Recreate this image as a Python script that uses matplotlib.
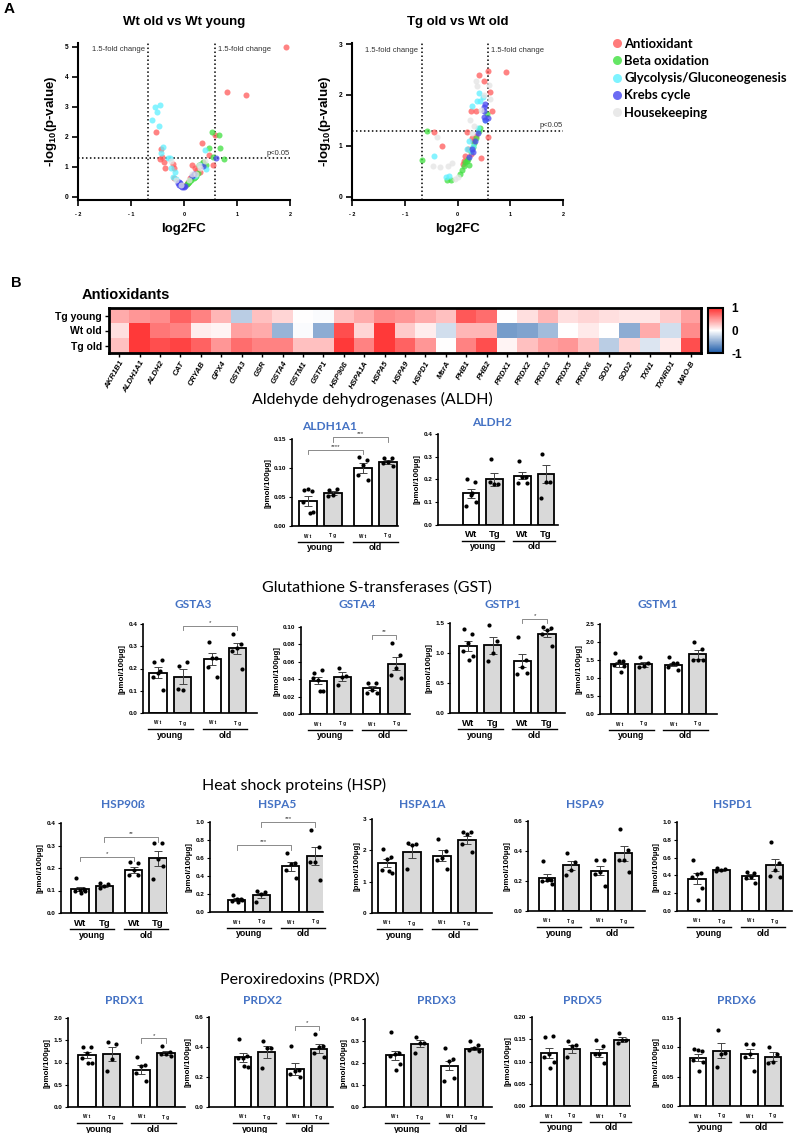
import matplotlib
matplotlib.use("Agg")
import matplotlib.pyplot as plt
import matplotlib.transforms as mtransforms
from matplotlib.colors import LinearSegmentedColormap
import numpy as np

plt.rcParams["font.family"] = ["Liberation Sans", "DejaVu Sans"]
plt.rcParams["mathtext.fontset"] = "custom"
plt.rcParams["mathtext.bf"] = "Liberation Sans:bold"
plt.rcParams["mathtext.default"] = "bf"

# ---------------- data: volcano plots ----------------
v1_red_x = [1.92, 0.82, 1.17, -0.52, -0.44, -0.41, -0.46, -0.38, -0.35, -0.20, -0.19, -0.18, -0.02,
            0.34, 0.58, 0.47, 0.36, 0.30, 0.25, 0.20, 0.15, 0.08, 0.12, 0.22, 0.05, 0.55]
v1_red_y = [5.00, 3.49, 3.41, 2.16, 1.60, 1.32, 1.25, 1.15, 0.97, 1.10, 0.97, 0.62, 0.37,
            1.79, 2.07, 1.40, 1.12, 0.84, 0.90, 0.95, 1.07, 0.50, 0.62, 0.75, 0.42, 1.07]
v1_green_x = [0.52, 0.66, 0.47, 0.68, 0.55, 0.75, 0.05, 0.10, 0.14, 0.18, 0.22, 0.26, 0.28, 0.32,
              0.20, 0.12, 0.08, 0.35, 0.42]
v1_green_y = [2.16, 2.07, 1.62, 1.62, 1.34, 1.26, 0.42, 0.50, 0.55, 0.62, 0.70, 0.80, 1.05, 1.10,
              0.65, 0.58, 0.45, 1.15, 1.05]
v1_cyan_x = [-0.55, -0.46, -0.51, -0.60, -0.47, -0.39, -0.44, -0.30, -0.27, -0.24, -0.17, -0.20,
             -0.15, 0.39, 0.41, 0.30, 0.20]
v1_cyan_y = [3.00, 3.06, 2.82, 2.55, 2.37, 1.68, 1.45, 1.29, 1.29, 0.95, 0.84, 0.67, 0.60, 1.57,
             0.92, 1.05, 0.70]
v1_blue_x = [-0.12, -0.09, -0.06, -0.03, -0.08, 0.00, 0.02, 0.61, 0.36, 0.15, 0.18, -0.10]
v1_blue_y = [0.45, 0.40, 0.36, 0.33, 0.48, 0.32, 0.35, 1.29, 1.04, 0.70, 0.78, 0.50]
v1_gray_x = [-0.05, 0.10, 0.22, 0.30, -0.25, 0.28, 0.15, 0.40, -0.15]
v1_gray_y = [0.40, 0.55, 0.75, 0.95, 1.20, 1.05, 0.75, 1.20, 0.55]

v2_red_x = [0.91, 0.58, 0.41, 0.50, 0.62, 0.25, 0.35, 0.66, -0.44, -0.29, 0.57, 0.45, 0.18, 0.20,
            0.15, 0.25, 0.10, 0.30, 0.12, 0.35, 0.28]
v2_red_y = [2.46, 2.48, 2.40, 2.28, 2.05, 1.69, 1.69, 1.69, 1.28, 1.00, 1.18, 0.77, 1.28, 0.95,
            0.80, 0.85, 0.65, 1.10, 0.70, 1.20, 1.15]
v2_green_x = [0.55, 0.42, -0.57, -0.67, -0.20, -0.13, 0.05, 0.08, 0.12, 0.15, 0.20, 0.26, 0.32,
              0.36, 0.40, 0.18, 0.22, 0.30]
v2_green_y = [1.63, 1.35, 1.29, 0.72, 0.33, 0.34, 0.45, 0.52, 0.60, 0.68, 0.75, 0.90, 1.05, 1.15,
              1.30, 0.70, 0.62, 0.98]
v2_cyan_x = [0.41, 0.49, 0.37, 0.42, 0.27, 0.52, -0.45, -0.22, -0.16, 0.22, 0.30, 0.18, 0.38, 0.25]
v2_cyan_y = [2.03, 1.97, 1.88, 1.88, 1.79, 1.50, 0.81, 0.39, 0.41, 1.10, 1.00, 0.95, 1.35, 0.90]
v2_blue_x = [0.52, 0.50, 0.50, 0.50, 0.57, 0.52, 0.38, 0.33, 0.28, 0.22, 0.30]
v2_blue_y = [1.83, 1.77, 1.69, 1.56, 1.54, 1.50, 1.25, 1.10, 0.95, 0.78, 0.88]
v2_gray_x = [0.35, 0.37, 0.61, 0.23, -0.38, -0.47, -0.33, -0.18, -0.11, -0.05, 0.00, 0.45, 0.50,
             0.32, 0.60, 0.28]
v2_gray_y = [2.28, 2.18, 1.92, 1.51, 1.18, 0.60, 0.58, 0.61, 0.66, 0.36, 0.40, 1.70, 2.00, 1.40,
             2.20, 1.25]

categories = ["Antioxidant", "Beta oxidation", "Glycolysis/Gluconeogenesis", "Krebs cycle", "Housekeeping"]

# ---------------- data: heatmap ----------------
genes = ["AKR1B1", "ALDH1A1", "ALDH2", "CAT", "CRYAB", "GPX4", "GSTA3", "GSR", "GSTA4", "GSTM1",
         "GSTP1", "HSP90ß", "HSPA1A", "HSPA5", "HSPA9", "HSPD1", "MsrA", "PHB1", "PHB2", "PRDX1",
         "PRDX2", "PRDX3", "PRDX5", "PRDX6", "SOD1", "SOD2", "TXN1", "TXNRD1", "MAO-B"]
hm_rows = ["Tg young", "Wt old", "Tg old"]
hm_tg_young = [0.40, 0.50, 0.55, 0.75, 0.60, 0.35, -0.30, 0.30, 0.20, 0.00, -0.02, 0.30, 0.40, 0.55,
               0.50, 0.40, 0.30, 0.80, 0.70, 0.00, 0.15, 0.35, 0.15, 0.20, 0.15, 0.12, 0.12, 0.25, 0.45]
hm_wt_old = [0.15, 0.95, 0.65, 0.60, 0.08, 0.05, 0.45, 0.40, -0.45, -0.02, -0.50, 0.85, 0.20, 0.95,
             0.25, 0.08, -0.20, 0.35, 0.35, -0.60, -0.55, -0.40, 0.00, 0.10, 0.00, -0.50, 0.40, -0.20, 0.55]
hm_tg_old = [0.30, 0.95, 0.85, 0.90, 0.75, 0.50, 0.70, 0.60, 0.60, 0.30, 0.30, 0.95, 0.60, 0.95,
             0.75, 0.50, 0.00, 0.60, 0.85, 0.05, 0.30, 0.45, 0.50, 0.30, -0.30, 0.20, -0.15, 0.10, 0.85]

# ---------------- data: bar panels (Wt young, Tg young, Wt old, Tg old) ----------------
group_ticks = ["Wt", "Tg", "Wt", "Tg"]
aldh1a1_mean = [0.043, 0.057, 0.100, 0.110]
aldh1a1_sem = [0.008, 0.004, 0.008, 0.003]
aldh1a1_pts = [[0.062, 0.060, 0.063, 0.042, 0.025, 0.022], [0.062, 0.063, 0.054, 0.052],
               [0.119, 0.113, 0.105, 0.088, 0.080], [0.118, 0.118, 0.111, 0.108, 0.104]]
aldh2_mean = [0.14, 0.20, 0.216, 0.225]
aldh2_sem = [0.02, 0.03, 0.015, 0.04]
aldh2_pts = [[0.20, 0.19, 0.13, 0.085, 0.10, 0.14], [0.29, 0.18, 0.18, 0.19],
             [0.28, 0.21, 0.21, 0.185, 0.185], [0.31, 0.19, 0.19, 0.12]]
gsta3_mean = [0.182, 0.164, 0.243, 0.291]
gsta3_sem = [0.025, 0.033, 0.027, 0.025]
gsta3_pts = [[0.23, 0.24, 0.18, 0.16, 0.105, 0.19], [0.21, 0.23, 0.105, 0.11],
             [0.32, 0.246, 0.246, 0.206, 0.164], [0.355, 0.31, 0.29, 0.28, 0.20]]
gsta4_mean = [0.038, 0.043, 0.030, 0.058]
gsta4_sem = [0.004, 0.005, 0.002, 0.007]
gsta4_pts = [[0.047, 0.051, 0.039, 0.041, 0.026, 0.026], [0.053, 0.044, 0.043, 0.033],
             [0.036, 0.036, 0.028, 0.024, 0.024], [0.082, 0.068, 0.053, 0.045, 0.041]]
gstp1_mean = [1.12, 1.13, 0.87, 1.32]
gstp1_sem = [0.08, 0.14, 0.11, 0.06]
gstp1_pts = [[1.40, 1.32, 1.17, 1.04, 0.95, 0.89], [1.47, 1.20, 1.00, 0.87],
             [1.26, 0.88, 0.77, 0.65, 0.67], [1.43, 1.42, 1.39, 1.32, 1.11]]
gstm1_mean = [1.38, 1.38, 1.37, 1.66]
gstm1_sem = [0.07, 0.07, 0.05, 0.12]
gstm1_pts = [[1.69, 1.48, 1.46, 1.37, 1.34, 1.18], [1.57, 1.41, 1.32, 1.30],
             [1.57, 1.43, 1.43, 1.30, 1.23], [1.99, 1.80, 1.51, 1.51, 1.51]]
hsp90b_mean = [0.106, 0.121, 0.191, 0.243]
hsp90b_sem = [0.010, 0.005, 0.013, 0.033]
hsp90b_pts = [[0.154, 0.106, 0.104, 0.100, 0.098, 0.090], [0.135, 0.128, 0.118, 0.110],
              [0.228, 0.222, 0.190, 0.170, 0.167], [0.31, 0.31, 0.24, 0.15, 0.21]]
hspa5_mean = [0.137, 0.185, 0.51, 0.62]
hspa5_sem = [0.02, 0.03, 0.05, 0.10]
hspa5_pts = [[0.19, 0.15, 0.15, 0.12, 0.13, 0.11], [0.23, 0.22, 0.20, 0.11],
             [0.66, 0.55, 0.53, 0.47, 0.38], [0.91, 0.72, 0.56, 0.56, 0.36]]
hspa1a_mean = [1.59, 1.96, 1.83, 2.34]
hspa1a_sem = [0.12, 0.20, 0.18, 0.13]
hspa1a_pts = [[2.05, 1.80, 1.71, 1.37, 1.27, 1.35], [2.23, 2.20, 2.18, 1.40],
              [2.37, 1.98, 1.75, 1.69, 1.40], [2.60, 2.58, 2.52, 2.20, 1.96]]
hspa9_mean = [0.223, 0.306, 0.27, 0.384]
hspa9_sem = [0.025, 0.03, 0.03, 0.05]
hspa9_pts = [[0.335, 0.21, 0.205, 0.20, 0.183, 0.215], [0.384, 0.325, 0.275, 0.24],
             [0.34, 0.34, 0.26, 0.25, 0.17], [0.547, 0.406, 0.34, 0.34, 0.257]]
hspd1_mean = [0.363, 0.464, 0.39, 0.517]
hspd1_sem = [0.06, 0.01, 0.03, 0.07]
hspd1_pts = [[0.577, 0.43, 0.42, 0.38, 0.26, 0.127], [0.48, 0.47, 0.46, 0.45],
             [0.44, 0.43, 0.38, 0.37, 0.32], [0.775, 0.54, 0.46, 0.39, 0.38]]
prdx1_mean = [1.17, 1.19, 0.84, 1.21]
prdx1_sem = [0.06, 0.15, 0.10, 0.05]
prdx1_pts = [[1.34, 1.34, 1.21, 1.10, 1.00, 1.00], [1.45, 1.41, 1.07, 0.82],
             [1.12, 0.95, 0.93, 0.76, 0.59], [1.36, 1.24, 1.20, 1.18, 1.15]]
prdx2_mean = [0.331, 0.367, 0.253, 0.389]
prdx2_sem = [0.03, 0.04, 0.04, 0.03]
prdx2_pts = [[0.453, 0.342, 0.33, 0.327, 0.264, 0.276], [0.442, 0.393, 0.393, 0.26],
             [0.404, 0.249, 0.24, 0.22, 0.20], [0.487, 0.404, 0.40, 0.36, 0.333]]
prdx3_mean = [0.235, 0.288, 0.188, 0.265]
prdx3_sem = [0.02, 0.015, 0.02, 0.008]
prdx3_pts = [[0.34, 0.245, 0.24, 0.23, 0.195, 0.167], [0.32, 0.29, 0.29, 0.245],
             [0.268, 0.22, 0.207, 0.12, 0.13], [0.30, 0.28, 0.27, 0.26, 0.255]]
prdx5_mean = [0.119, 0.128, 0.119, 0.149]
prdx5_sem = [0.012, 0.008, 0.010, 0.006]
prdx5_pts = [[0.154, 0.158, 0.117, 0.11, 0.10, 0.085], [0.145, 0.137, 0.135, 0.11],
             [0.149, 0.134, 0.116, 0.117, 0.096], [0.163, 0.149, 0.149, 0.141]]
prdx6_mean = [0.082, 0.094, 0.089, 0.084]
prdx6_sem = [0.006, 0.013, 0.008, 0.008]
prdx6_pts = [[0.097, 0.094, 0.095, 0.078, 0.075, 0.060], [0.130, 0.091, 0.088, 0.067],
             [0.105, 0.105, 0.088, 0.084, 0.060], [0.101, 0.088, 0.075, 0.073]]

# ---------------- figure helpers (pixel layout) ----------------
W, H = 799, 1133
fig = plt.figure(figsize=(W / 100, H / 100), dpi=100)


def px_axes(l, t, r, b):
    return fig.add_axes([l / W, 1 - b / H, (r - l) / W, (b - t) / H])


def ftext(x, y, s, **kw):
    kw.setdefault("ha", "center")
    kw.setdefault("va", "center")
    fig.text(x / W, 1 - y / H, s, **kw)


blue_title = "#4472c4"
heading_font = ["Lato", "DejaVu Sans"]

# ---------------- panel A: volcano plots ----------------
cat_colors = ["#ff5a5a", "#3fe03f", "#5ef0ff", "#4646f0", "#e4e4e4"]


def volcano(rect, ytop, xs, ys, title, txt_y):
    ax = px_axes(*rect)
    for x, y, c in zip(xs, ys, cat_colors):
        ax.scatter(x, y, s=19, color=c, alpha=0.75, linewidths=0, zorder=3)
    ax.set_xlim(-2, 2)
    ax.set_ylim(ytop[0], ytop[1])
    ax.axvline(-0.68, ls=(0, (1, 1.6)), color="black", lw=1.1)
    ax.axvline(0.585, ls=(0, (1, 1.6)), color="black", lw=1.1)
    ax.axhline(1.301, ls=(0, (1, 1.6)), color="black", lw=1.1)
    ax.text(-0.74, txt_y, "1.5-fold change", fontsize=5.5, ha="right", va="center", color="#333333")
    ax.text(0.64, txt_y, "1.5-fold change", fontsize=5.5, ha="left", va="center", color="#333333")
    ax.text(2.0, 1.33, "p<0.05", fontsize=5.5, ha="right", va="bottom", color="#333333")
    for s in ["top", "right"]:
        ax.spines[s].set_visible(False)
    for s in ["left", "bottom"]:
        ax.spines[s].set_linewidth(1.5)
    ax.set_xticks([-2, -1, 0, 1, 2])
    ax.set_xticklabels(["- 2", "- 1", "0", "1", "2"])
    ax.tick_params(axis="x", labelsize=4, length=4, width=1.2, pad=5)
    ax.tick_params(axis="y", labelsize=4.8, length=4, width=1.2, pad=3)
    for lbl in ax.get_xticklabels() + ax.get_yticklabels():
        lbl.set_fontweight("bold")
    ax.set_xlabel("log2FC", fontsize=9.5, fontweight="bold", labelpad=4)
    ax.set_ylabel(r"-log$_{10}$(p-value)", fontsize=9.5, fontweight="bold", labelpad=4)
    ax.set_title(title, fontsize=9.5, fontweight="bold", pad=13)
    return ax


ax_v1 = volcano((78, 43, 290, 200), (-0.1, 5.13),
                [v1_red_x, v1_green_x, v1_cyan_x, v1_blue_x, v1_gray_x],
                [v1_red_y, v1_green_y, v1_cyan_y, v1_blue_y, v1_gray_y], "Wt old vs Wt young", 4.92)
ax_v1.set_yticks(range(6))
ax_v2 = volcano((352, 43, 563, 200), (-0.06, 3.02),
                [v2_red_x, v2_green_x, v2_cyan_x, v2_blue_x, v2_gray_x],
                [v2_red_y, v2_green_y, v2_cyan_y, v2_blue_y, v2_gray_y], "Tg old vs Wt old", 2.88)
ax_v2.set_yticks(range(4))

handles = [plt.Line2D([], [], marker="o", ls="", markersize=6.5, markerfacecolor=c,
                      markeredgewidth=0, alpha=0.8) for c in cat_colors]
fig.legend(handles, categories, loc="upper left", bbox_to_anchor=(599 / W, 1 - 26 / H),
           frameon=False, handletextpad=0.05, handlelength=1.0, labelspacing=0.4,
           prop={"family": heading_font, "weight": "bold", "size": 9.4})

ftext(9, 9, "A", fontsize=11, fontweight="bold")
ftext(16, 283, "B", fontsize=10.5, fontweight="bold")

# ---------------- panel B: heatmap ----------------
cmap = LinearSegmentedColormap.from_list("bwr_soft", ["#1b5aa8", "#ffffff", "#ff3030"])
ax_h = px_axes(109, 308, 701, 353)
hm = np.array([hm_tg_young, hm_wt_old, hm_tg_old])
im = ax_h.imshow(hm, cmap=cmap, vmin=-1, vmax=1, aspect="auto", interpolation="nearest")
ax_h.set_yticks(range(len(hm_rows)))
ax_h.set_yticklabels(hm_rows, fontsize=7.5, fontweight="bold")
ax_h.set_xticks(range(len(genes)))
ax_h.set_xticklabels(genes, fontsize=5.6, fontweight="bold", fontstyle="italic",
                     rotation=60, ha="right", rotation_mode="anchor")
ax_h.tick_params(length=3, width=1.0, pad=2)
for s in ax_h.spines.values():
    s.set_linewidth(2)
cax = px_axes(708, 308, 723, 353)
cb = fig.colorbar(im, cax=cax, ticks=[-1, 0, 1])
cb.outline.set_linewidth(1.5)
cax.set_yticklabels(["-1", "0", "1"], fontsize=8.5, fontweight="bold")
cax.tick_params(length=0, pad=6)
ftext(82, 295, "Antioxidants", fontsize=10.5, fontweight="bold", ha="left")

# ---------------- section headings ----------------
ftext(372, 399, "Aldehyde dehydrogenases (ALDH)", fontsize=11.5, family=heading_font)
ftext(377, 588, "Glutathione S-transferases (GST)", fontsize=11.5, family=heading_font)
ftext(294, 785, "Heat shock proteins (HSP)", fontsize=11.5, family=heading_font)
ftext(300, 980, "Peroxiredoxins (PRDX)", fontsize=11.5, family=heading_font)

# ---------------- bar panels ----------------
xpos = [0, 1, 2.2, 3.2]
fills = ["white", "#d9d9d9", "white", "#d9d9d9"]
jit = [-0.16, 0.16, 0.0, -0.2, 0.2, 0.06]


def bar_panel(rect, xlim, yticks, fmt, means, sems, pts, sigs, big_ticks, title, title_xy):
    l, r, y0, yt = rect
    ax = px_axes(l, yt, r, y0)
    ax.set_xlim(*xlim)
    ax.set_ylim(0, yticks[-1])
    for i in range(4):
        ax.bar(xpos[i], means[i], width=0.7, color=fills[i], edgecolor="black", linewidth=1.3, zorder=2)
        ax.errorbar(xpos[i], means[i], yerr=sems[i], color="#444444", capsize=2.6, lw=0.7,
                    capthick=0.7, zorder=3)
        n = len(pts[i])
        ax.scatter(np.array(jit[:n]) + xpos[i], pts[i], s=9, color="black", zorder=4,
                   linewidths=0, clip_on=False)
    for s in ["top", "right"]:
        ax.spines[s].set_visible(False)
    for s in ["left", "bottom"]:
        ax.spines[s].set_linewidth(1.2)
    ax.set_yticks(yticks)
    ax.set_yticklabels([fmt.format(v) for v in yticks])
    ax.tick_params(axis="y", labelsize=4.6, length=2.5, width=0.8, pad=1.5)
    for lbl in ax.get_yticklabels():
        lbl.set_fontweight("bold")
    ax.set_xticks([])
    ax.set_ylabel("[pmol/100µg]", fontsize=5.8, fontweight="bold", labelpad=2)
    for xp, lab in zip(xpos, group_ticks):
        if big_ticks:
            ax.annotate(lab, xy=(xp, 0), xycoords=("data", "axes fraction"), xytext=(0, -10),
                        textcoords="offset pixels", ha="center", va="center", fontsize=6.8,
                        fontweight="bold")
        else:
            ax.annotate(" ".join(lab), xy=(xp, 0), xycoords=("data", "axes fraction"),
                        xytext=(0, -10), textcoords="offset pixels", ha="center", va="center",
                        fontsize=3.3, fontweight="bold")
    trans = mtransforms.offset_copy(ax.get_xaxis_transform(), fig=fig, x=0, y=-16, units="dots")
    for (a, b), lab in zip([(0, 1), (2.2, 3.2)], ["young", "old"]):
        ax.plot([a - 0.4, b + 0.4], [0, 0], color="black", lw=1.0, transform=trans, clip_on=False)
        ax.annotate(lab, xy=((a + b) / 2, 0), xycoords=("data", "axes fraction"), xytext=(0, -22),
                    textcoords="offset pixels", ha="center", va="center", fontsize=6.3,
                    fontweight="bold")
    top = yticks[-1]
    for i1, i2, hgt, lab in sigs:
        d = 0.05 * top
        ax.plot([xpos[i1], xpos[i1], xpos[i2], xpos[i2]], [hgt - d, hgt, hgt, hgt - d],
                color="#777777", lw=0.6, clip_on=False, zorder=5)
        ax.text((xpos[i1] + xpos[i2]) / 2, hgt + 0.01 * top, lab, fontsize=4.5, ha="center",
                va="bottom", color="#333333")
    ftext(title_xy[0], title_xy[1], title, fontsize=8.6, fontweight="bold", color=blue_title,
          family=heading_font)
    return ax


def ticks(top, step):
    return list(np.round(np.arange(0, top + step / 2, step), 3))


bar_panel((292, 398, 526, 439), (-0.64, 3.6), ticks(0.15, 0.05), "{:.2f}", aldh1a1_mean, aldh1a1_sem,
          aldh1a1_pts, [(0, 2, 0.131, "****"), (1, 3, 0.153, "***")], False, "ALDH1A1", (330, 426))
bar_panel((438, 558, 525, 434), (-1.41, 3.72), ticks(0.4, 0.1), "{:.1f}", aldh2_mean, aldh2_sem,
          aldh2_pts, [], True, "ALDH2", (492, 423))

bar_panel((143, 257, 713, 624), (-0.61, 4.0), ticks(0.4, 0.1), "{:.1f}", gsta3_mean, gsta3_sem,
          gsta3_pts, [(1, 3, 0.392, "*")], False, "GSTA3", (193, 605))
bar_panel((301, 410, 714, 627), (-0.70, 3.77), ticks(0.10, 0.02), "{:.2f}", gsta4_mean, gsta4_sem,
          gsta4_pts, [(2, 3, 0.091, "**")], False, "GSTA4", (357, 605))
bar_panel((450, 565, 713, 623), (-0.73, 3.93), ticks(1.5, 0.5), "{:.1f}", gstp1_mean, gstp1_sem,
          gstp1_pts, [(2, 3, 1.57, "*")], True, "GSTP1", (503, 605))
bar_panel((600, 717, 714, 624), (-0.78, 3.98), ticks(2.5, 0.5), "{:.1f}", gstm1_mean, gstm1_sem,
          gstm1_pts, [], False, "GSTM1", (658, 605))

bar_panel((61, 167, 913, 823), (-0.78, 3.57), ticks(0.4, 0.1), "{:.1f}", hsp90b_mean, hsp90b_sem,
          hsp90b_pts, [(0, 2, 0.251, "*"), (1, 3, 0.336, "**")], True, "HSP90ß", (123, 805))
bar_panel((210, 323, 912, 822), (-1.1, 3.52), ticks(1.0, 0.2), "{:.1f}", hspa5_mean, hspa5_sem,
          hspa5_pts, [(0, 2, 0.74, "***"), (1, 3, 1.0, "***")], False, "HSPA5", (277, 805))
bar_panel((372, 492, 913, 819), (-0.6, 4.2), ticks(3, 1), "{:.0f}", hspa1a_mean, hspa1a_sem,
          hspa1a_pts, [], False, "HSPA1A", (422, 805))
bar_panel((528, 645, 911, 821), (-0.79, 4.08), ticks(0.6, 0.2), "{:.1f}", hspa9_mean, hspa9_sem,
          hspa9_pts, [], False, "HSPA9", (585, 805))
bar_panel((677, 792, 911, 822), (-0.82, 3.9), ticks(1.0, 0.2), "{:.1f}", hspd1_mean, hspd1_sem,
          hspd1_pts, [], False, "HSPD1", (733, 805))

bar_panel((68, 185, 1107, 1018), (-0.77, 3.97), ticks(2.0, 0.5), "{:.1f}", prdx1_mean, prdx1_sem,
          prdx1_pts, [(2, 3, 1.54, "*")], False, "PRDX1", (125, 1000))
bar_panel((209, 333, 1107, 1017), (-1.43, 3.79), ticks(0.6, 0.2), "{:.1f}", prdx2_mean, prdx2_sem,
          prdx2_pts, [(2, 3, 0.542, "*")], False, "PRDX2", (262, 1000))
bar_panel((365, 492, 1107, 1019), (-1.21, 3.93), ticks(0.4, 0.1), "{:.1f}", prdx3_mean, prdx3_sem,
          prdx3_pts, [], False, "PRDX3", (437, 1000))
bar_panel((532, 630, 1106, 1017), (-0.74, 3.54), ticks(0.20, 0.05), "{:.2f}", prdx5_mean, prdx5_sem,
          prdx5_pts, [], False, "PRDX5", (583, 1000))
bar_panel((680, 783, 1106, 1018), (-0.77, 3.63), ticks(0.15, 0.05), "{:.2f}", prdx6_mean, prdx6_sem,
          prdx6_pts, [], False, "PRDX6", (737, 1000))

fig.savefig("out.png", dpi=100)
